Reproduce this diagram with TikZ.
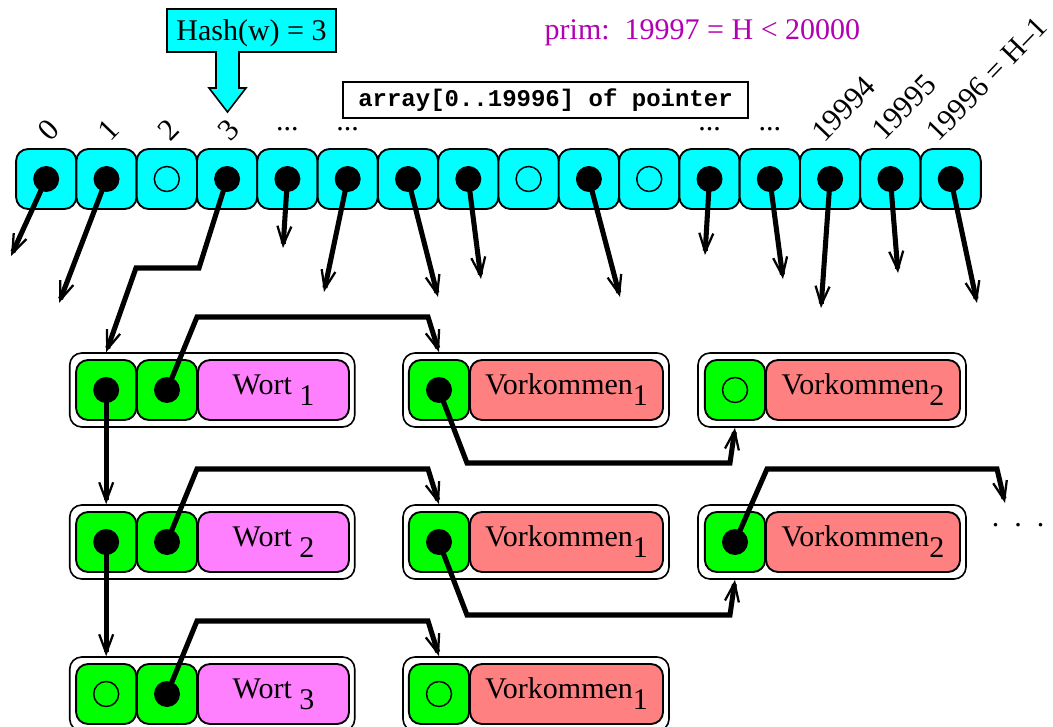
\documentclass[tikz,border=0pt]{standalone}
\usepackage{fontspec}
\setmainfont{Liberation Serif}
\setmonofont{Liberation Mono}
\usetikzlibrary{arrows.meta,calc}

\definecolor{cellcyan}{RGB}{0,255,255}
\definecolor{cellgreen}{RGB}{0,255,0}
\definecolor{wortpink}{RGB}{255,128,255}
\definecolor{vorkred}{RGB}{255,128,128}
\definecolor{primtext}{RGB}{178,0,178}

% subscript drawn at full size, lowered below the baseline
\newcommand\lowsub[1]{\raisebox{-8.25pt}{#1}}

\begin{document}
\begin{tikzpicture}[x=0.75pt,y=-0.75pt,
  every node/.style={font=\fontsize{22.5}{27}\selectfont},
  acell/.style={draw, line width=1.4pt, rounded corners=9pt, fill=cellcyan,
    minimum width=45.2pt, minimum height=45pt, inner sep=0pt},
  gcell/.style={acell, fill=cellgreen},
  recframe/.style={draw, line width=1.2pt, rounded corners=9pt, fill=white,
    minimum height=55.5pt, inner sep=0pt},
  wortbox/.style={draw, line width=1.4pt, rounded corners=9pt, fill=wortpink,
    minimum width=113.25pt, minimum height=45pt, inner sep=0pt},
  vorkbox/.style={draw, line width=1.4pt, rounded corners=9pt, fill=vorkred,
    minimum height=45pt, inner sep=0pt},
  fullptr/.style={circle, fill=black, minimum size=19.5pt, inner sep=0pt},
  nilptr/.style={circle, draw, line width=1.1pt, minimum size=18.75pt, inner sep=0pt},
  ptr/.style={line width=3.8pt,
    -{Straight Barb[length=14pt,width=10.5pt,line width=1.7pt]}},
  idx/.style={rotate=46, inner sep=0pt, font=\fontsize{23}{27}\selectfont},
]
\useasboundingbox (0,0) rectangle (1053,727);

% ---- hash value with block arrow into the table
\path[draw, fill=cellcyan, line width=1.2pt]
  (167,9) -- (336,9) -- (336,52) -- (239,52) -- (239,88) -- (246,88)
  -- (227.5,112) -- (209,88) -- (216,88) -- (216,52) -- (167,52) -- cycle;
\node[anchor=base] (hash) at (251.5,40.5) {Hash(w) = 3};

\node[anchor=base west, text=primtext] (prim) at (540,40)
  {prim:\ \ 19997 = H < 20000};

\node[draw, line width=1.1pt, fill=white, minimum width=303.75pt,
  minimum height=27pt, inner sep=0pt] (arr) at (545.5,100)
  {\fontsize{18}{20}\selectfont\ttfamily\bfseries array[0..19996] of pointer};

% ---- the table of pointers
\foreach \i in {0,...,15}
  \node[acell] (c\i) at ({46.2+60.3*\i},179) {};
\foreach \i in {0,1,3,4,5,6,7,9,11,12,13,14,15}
  \node[fullptr] (d\i) at (c\i) {};
\foreach \i in {2,8,10}
  \node[nilptr] (d\i) at (c\i) {};

% index labels
\foreach \i/\t in {0/0,1/1,2/2,3/3}
  \node[idx] (l\i) at ($(c\i.center |- 0,130)+(2,0)$) {\t};
\foreach \i in {4,5,11,12}
  \node[anchor=base] (l\i) at (c\i.center |- 0,131) {...};
\node[idx, anchor=base west] (l13) at ($(c13.center |- 0,144)+(-6,0)$) {19994};
\node[idx, anchor=base west] (l14) at ($(c14.center |- 0,142)+(-6,0)$) {19995};
\node[idx, anchor=base west, font=\fontsize{22.5}{27}\selectfont] (l15)
  at ($(c15.center |- 0,143)+(-12,0)$) {19996 = H–1};

% loose pointer ends of the other chains
\coordinate (e0) at (11,256);
\coordinate (e1) at (59,303);
\coordinate (e4) at (283,248);
\coordinate (e5) at (324,292);
\coordinate (e6) at (438,297);
\coordinate (e7) at (481,279);
\coordinate (e9) at (620,297);
\coordinate (e11) at (705,255);
\coordinate (e12) at (783,279);
\coordinate (e13) at (821,308);
\coordinate (e14) at (898,273);
\coordinate (e15) at (977,303);
\foreach \i in {0,1,4,5,6,7,9,11,12,13,14,15}
  \draw[ptr] (d\i.center) -- (e\i);

% ---- word records with their occurrence lists
\foreach \r/\y in {1/390,2/542,3/694} {
  \node[recframe, minimum width=213.75pt] (w\r) at (212.25,\y) {};
  \node[gcell] (w\r-a) at (106.2,\y) {};
  \node[gcell] (w\r-b) at (167,\y) {};
  \node[wortbox] (w\r-t) at (273.5,\y) {Wort \lowsub{\r}};
  \node[recframe, minimum width=199.5pt] (v\r1) at (536,\y) {};
  \node[gcell] (v\r1-a) at (439,\y) {};
  \node[vorkbox, minimum width=144.75pt] (v\r1-t) at (566.5,\y) {Vorkommen\lowsub{1}};
}
\foreach \r/\y in {1/390,2/542} {
  \node[recframe, minimum width=201pt] (v\r2) at (832,\y) {};
  \node[gcell] (v\r2-a) at (735,\y) {};
  \node[vorkbox, minimum width=145.5pt] (v\r2-t) at (863,\y) {Vorkommen\lowsub{2}};
}

% pointer fields
\foreach \n in {w1-a,w1-b,v11-a,w2-a,w2-b,v21-a,v22-a,w3-b}
  \node[fullptr] (\n p) at (\n) {};
\foreach \n in {v12-a,w3-a,v31-a}
  \node[nilptr] (\n p) at (\n) {};

% hash chain entry
\draw[ptr] (d3.center) -- (199,268) -- (136,268) -- (w1-a |- w1.north);

% next word in the chain
\draw[ptr] (w1-ap.center) -- (w2-a |- w2.north);
\draw[ptr] (w2-ap.center) -- (w3-a |- w3.north);

% word -> first occurrence
\foreach \r/\y in {1/390,2/542,3/694}
  \draw[ptr] (w\r-bp.center) -- (197,\y-73) -- (428,\y-73) -- (v\r1-a |- v\r1.north);

% occurrence -> next occurrence
\foreach \r/\y in {1/390,2/542}
  \draw[ptr] (v\r1-ap.center) -- (467,\y+73) -- (730,\y+73) -- (v\r2-a |- v\r2.south);

\coordinate (more) at (1005,503);
\draw[ptr] (v22-ap.center) -- (767,469) -- (997,469) -- (more);
\node[anchor=base] (etc) at (1018,526) {.\ \ .\ \ .};

\end{tikzpicture}
\end{document}
